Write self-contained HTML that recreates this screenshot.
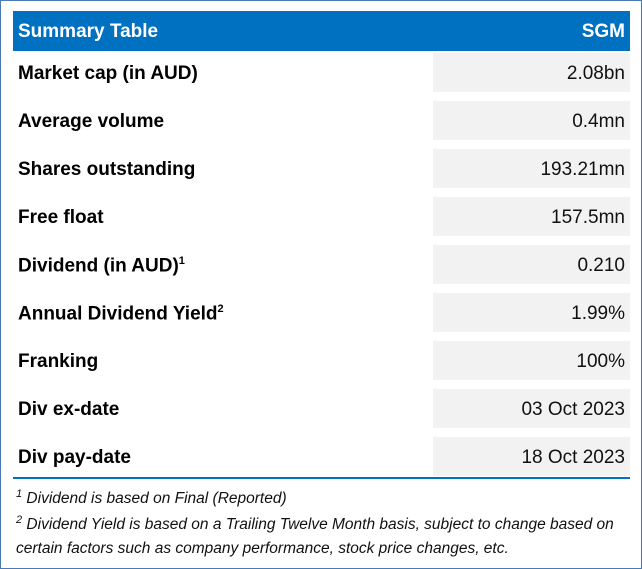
<!DOCTYPE html>
<html><head><meta charset="utf-8"><style>
body{margin:0;background:#fff;font-family:"Liberation Sans",sans-serif;}
#wrap{position:absolute;left:0;top:0;width:640px;height:567px;border:1px solid #4a7ab5;}
#hdr{position:absolute;left:12px;top:10px;width:617px;height:40px;background:#0070c0;color:#fff;font-weight:bold;font-size:19px;}
#hdr span{position:absolute;top:10px;}
.row{position:absolute;left:12px;width:617px;height:39px;font-size:19px;}
.lbl{position:absolute;left:5px;top:10px;font-weight:bold;color:#000;}
.val{position:absolute;left:420px;width:197px;height:39px;top:0;background:#f2f2f2;text-align:right;box-sizing:border-box;padding-right:5px;line-height:41px;color:#111;}
sup{font-size:11px;}
#line{position:absolute;left:12px;top:476px;width:617px;height:2px;background:#0070c0;}
.fn{position:absolute;left:15px;font-style:italic;font-size:15.5px;color:#111;white-space:nowrap;}
</style></head><body>
<div id="wrap">
<div id="hdr"><span style="left:5px">Summary Table</span><span style="right:5px">SGM</span></div>
<div class="row" style="top:52px"><span class="lbl">Market cap (in AUD)</span><span class="val">2.08bn</span></div>
<div class="row" style="top:100px"><span class="lbl">Average volume</span><span class="val">0.4mn</span></div>
<div class="row" style="top:148px"><span class="lbl">Shares outstanding</span><span class="val">193.21mn</span></div>
<div class="row" style="top:196px"><span class="lbl">Free float</span><span class="val">157.5mn</span></div>
<div class="row" style="top:244px"><span class="lbl">Dividend (in AUD)<sup>1</sup></span><span class="val">0.210</span></div>
<div class="row" style="top:292px"><span class="lbl">Annual Dividend Yield<sup>2</sup></span><span class="val">1.99%</span></div>
<div class="row" style="top:340px"><span class="lbl">Franking</span><span class="val">100%</span></div>
<div class="row" style="top:388px"><span class="lbl">Div ex-date</span><span class="val">03 Oct 2023</span></div>
<div class="row" style="top:436px"><span class="lbl">Div pay-date</span><span class="val">18 Oct 2023</span></div>
<div id="line"></div>
<div class="fn" style="top:487px"><sup>1</sup> Dividend is based on Final (Reported)</div>
<div class="fn" style="top:513px"><sup>2</sup> Dividend Yield is based on a Trailing Twelve Month basis, subject to change based on</div>
<div class="fn" style="top:539px">certain factors such as company performance, stock price changes, etc.</div>
</div>
</body></html>
